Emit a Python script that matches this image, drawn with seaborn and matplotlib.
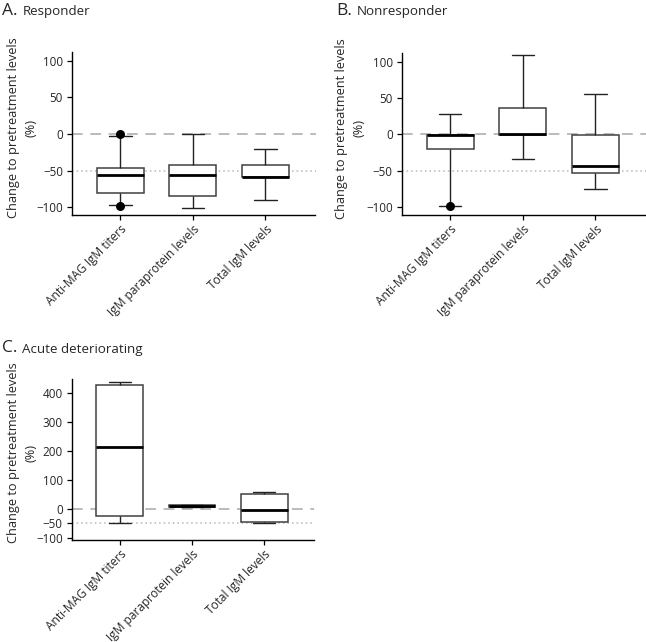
import numpy as np
import pandas as pd
import matplotlib
matplotlib.use("Agg")
import matplotlib.pyplot as plt
import seaborn as sns

categories = ["Anti-MAG IgM titers", "IgM paraprotein levels", "Total IgM levels"]

# five-number summaries per category: [whisker low, Q1, median, Q3, whisker high]
responder_anti_mag = [-96.4, -81.0, -56.4, -46.4, -2.7]
responder_paraprotein = [-100.5, -85.0, -56.4, -41.8, 0.0]
responder_total = [-90.0, -58.8, -58.0, -41.8, -20.0]
responder_points = {"Anti-MAG IgM titers": [0.5, -97.7]}

nonresponder_anti_mag = [-98.0, -19.5, -1.0, -0.9, 28.6]
nonresponder_paraprotein = [-33.0, -0.5, 0.3, 36.0, 108.6]
nonresponder_total = [-74.5, -52.7, -42.7, -1.4, 56.0]
nonresponder_points = {"Anti-MAG IgM titers": [-98.0]}

acute_anti_mag = [-48.0, -23.0, 212.6, 427.6, 438.0]
acute_paraprotein = [8.6, 8.6, 11.5, 14.4, 14.4]
acute_total = [-47.0, -45.0, -4.6, 50.6, 60.0]
acute_points = {}

panel_letters = ["A.", "B.", "C."]
panel_titles = ["Responder", "Nonresponder", "Acute deteriorating"]
ylabel = "Change to pretreatment levels\n(%)"

sns.set_theme(style="ticks")
plt.rcParams["font.family"] = ["Open Sans", "DejaVu Sans"]
plt.rcParams["axes.unicode_minus"] = True

W, H = 646, 642
fig = plt.figure(figsize=(W / 100, H / 100), dpi=100)


def ax_at(l, t, r, b):
    return fig.add_axes([l / W, 1 - b / H, (r - l) / W, (b - t) / H])


panels = [
    dict(box=(72, 52, 315.5, 215), series=[responder_anti_mag, responder_paraprotein, responder_total],
         points=responder_points, ylim=(-110.5, 111.8), yticks=[-100, -50, 0, 50, 100],
         title_xy=(2, 15), label_xy=(-0.14, 0.535)),
    dict(box=(401.7, 53, 645.5, 215), series=[nonresponder_anti_mag, nonresponder_paraprotein, nonresponder_total],
         points=nonresponder_points, ylim=(-110.5, 111.8), yticks=[-100, -50, 0, 50, 100],
         title_xy=(336, 15), label_xy=(-0.15, 0.535)),
    dict(box=(71.7, 379, 314, 540), series=[acute_anti_mag, acute_paraprotein, acute_total],
         points=acute_points, ylim=(-107, 449), yticks=[-100, -50, 0, 100, 200, 300, 400],
         title_xy=(2, 352.5), label_xy=(-0.14, 0.54)),
]

for i, p in enumerate(panels):
    ax = ax_at(*p["box"])
    rows = []
    for cat, vals in zip(categories, p["series"]):
        for v in vals:
            rows.append({"cat": cat, "value": v})
    df = pd.DataFrame(rows)
    ax.axhline(0, color="#a8a8a8", lw=1.1, ls=(0, (7, 5)), zorder=0)
    ax.axhline(-50, color="#b8b8b8", lw=1.1, ls=(0, (1, 2)), zorder=0)
    sns.boxplot(data=df, x="cat", y="value", order=categories, ax=ax,
                whis=np.inf, width=0.65, color="white", linecolor="#404040",
                linewidth=1.1, fill=True, capwidths=0.31,
                medianprops=dict(color="black", linewidth=2.0),
                whiskerprops=dict(color="#222222", linewidth=1.0),
                capprops=dict(color="#222222", linewidth=1.0),
                boxprops=dict(facecolor="white", edgecolor="#404040", linewidth=1.1))
    prow = []
    for cat, vals in p["points"].items():
        for v in vals:
            prow.append({"cat": cat, "value": v})
    if prow:
        pdf = pd.DataFrame(prow)
        sns.stripplot(data=pdf, x="cat", y="value", order=categories, ax=ax,
                      jitter=False, color="black", size=6.5, zorder=5)
    ax.set_xlim(-0.667, 2.69)
    ax.set_ylim(*p["ylim"])
    ax.set_yticks(p["yticks"])
    ax.set_xlabel("")
    ax.set_ylabel(ylabel, fontsize=9.2, linespacing=1.45)
    ax.yaxis.set_label_coords(*p["label_xy"])
    ax.tick_params(axis="y", labelsize=8.4, length=3.6, width=0.9, pad=2.8, color="black")
    ax.tick_params(axis="x", labelsize=8.6, length=3.6, width=0.9, pad=2, color="black")
    for lab in ax.get_xticklabels():
        lab.set_rotation(45)
        lab.set_ha("right")
        lab.set_rotation_mode("anchor")
    sns.despine(ax=ax)
    for s in ["left", "bottom"]:
        ax.spines[s].set_color("black")
        ax.spines[s].set_linewidth(1.0)
    tx, ty = p["title_xy"]
    fig.text(tx / W, 1 - ty / H, panel_letters[i], fontsize=12.5, va="baseline", ha="left")
    fig.text((tx + 20.5) / W, 1 - ty / H, panel_titles[i], fontsize=9.6, va="baseline", ha="left")

fig.savefig("out.png", dpi=100, facecolor="white")
